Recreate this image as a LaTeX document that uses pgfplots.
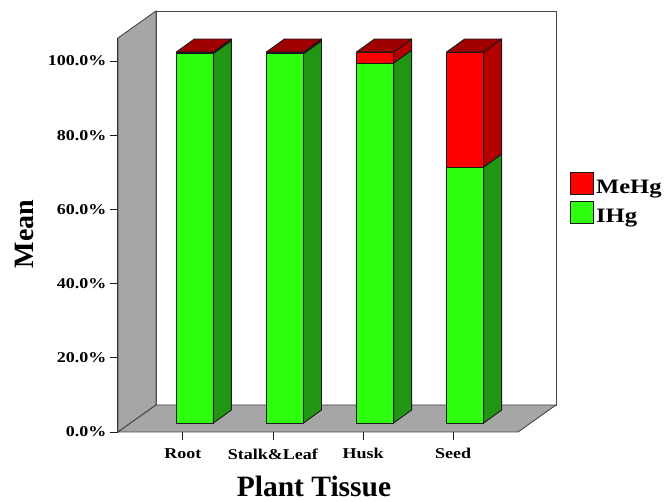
\documentclass[border=0pt]{standalone}
\usepackage{pgfplots}
\pgfplotsset{compat=1.18}
\usepackage{pgfplotstable}
\usepackage{fontspec}
\setmainfont{Liberation Serif}
\newfontfamily\widefont{Liberation Serif}[FakeStretch=1.2]

\definecolor{ihgfront}{RGB}{45,255,15}
\definecolor{ihgside}{RGB}{32,150,20}
\definecolor{mefront}{RGB}{255,0,0}
\definecolor{meside}{RGB}{180,0,0}
\definecolor{metop}{RGB}{160,0,0}
\definecolor{wallgray}{RGB}{166,166,166}
\definecolor{edge}{RGB}{25,25,25}
\definecolor{walledge}{RGB}{70,70,70}

% mean share of each mercury species per plant tissue (%)
\pgfplotstableread{
pos IHg  MeHg
0   99.6 0.4
1   99.5 0.5
2   97.0 3.0
3   69.0 31.0
}\tissuedata

% bar geometry (axis units): half width and depth of the prisms
\def\hw{0.2055}
\def\bx{0.2}
\def\by{3.5}

\begin{document}
\begin{tikzpicture}
\path[use as bounding box] (-118pt,-70pt) rectangle (549pt,432pt);
\begin{axis}[
  at={(0pt,0pt)}, anchor=south west,
  scale only axis, width=400pt, height=394pt,
  xmin=-0.72, xmax=3.72, ymin=0, ymax=106.2,
  axis lines*=left,
  axis line style={draw=edge, line width=1pt},
  clip=false,
  xtick={0,1,2,3},
  xticklabels={Root,Stalk\&Leaf,Husk,Seed},
  ytick={0,20,...,100},
  yticklabel={\pgfmathprintnumber[fixed,fixed zerofill,precision=1]{\tick}\%},
  /pgf/number format/assume math mode=true,
  tick align=outside, major tick length=8pt,
  tick style={draw=edge, line width=0.8pt},
  ticklabel style={font=\widefont\bfseries\fontsize{15}{15}\selectfont, text=black},
  xticklabel style={yshift=-5pt},
  xlabel={Plant Tissue}, ylabel={Mean},
  every axis x label/.style={at={(axis description cs:0.49,-0.163)}, anchor=base,
    inner sep=0pt, font=\bfseries\fontsize{29.5}{29.5}\selectfont},
  every axis y label/.style={at={(axis description cs:-0.2125,0.5025)}, rotate=90, anchor=base,
    inner sep=0pt, font=\bfseries\fontsize{28}{28}\selectfont},
  legend style={at={(axis description cs:1.13,0.66)}, anchor=north west,
    draw=none, fill=none, inner sep=0pt, row sep=5pt,
    font=\widefont\bfseries\fontsize{20.5}{21}\selectfont,
    nodes={inner xsep=2pt, inner ysep=1pt}},
  legend cell align=left,
  legend image code/.code={\filldraw[#1] (0pt,-7pt) rectangle (23pt,15pt);},
  barface/.style={xshift=12pt, yshift=9pt, draw=edge, line width=0.9pt, line join=round, forget plot},
]
% back wall, left wall and floor of the box
\filldraw[fill=white, draw=walledge, line width=0.9pt]
  (axis cs:-0.298,7.28) rectangle (axis cs:4.142,113.48);
\filldraw[fill=wallgray, draw=walledge, line width=0.9pt]
  (axis cs:-0.72,0) -- (axis cs:-0.72,106.2) -- (axis cs:-0.298,113.48) -- (axis cs:-0.298,7.28) -- cycle;
\filldraw[fill=wallgray, draw=walledge, line width=0.9pt]
  (axis cs:-0.72,0) -- (axis cs:3.72,0) -- (axis cs:4.142,7.28) -- (axis cs:-0.298,7.28) -- cycle;

% front faces: MeHg stacked on IHg
\addplot[ybar, bar width=0.411, bar shift=0pt, barface, fill=mefront]
  table[x=pos, y expr=\thisrow{IHg}+\thisrow{MeHg}] {\tissuedata};
\addplot[ybar, bar width=0.411, bar shift=0pt, barface, fill=ihgfront]
  table[x=pos, y=IHg] {\tissuedata};

% side and top faces of each prism
\pgfplotsinvokeforeach{0,1,2,3}{
  \pgfplotstablegetelem{#1}{IHg}\of\tissuedata \let\vi=\pgfplotsretval
  \pgfplotstablegetelem{#1}{MeHg}\of\tissuedata \let\vm=\pgfplotsretval
  \pgfmathsetmacro\vt{\vi+\vm}
  \pgfmathsetmacro\xl{#1-\hw}
  \pgfmathsetmacro\xr{#1+\hw}
  \pgfmathsetmacro\xrb{\xr+\bx}
  \pgfmathsetmacro\xlb{\xl+\bx}
  \pgfmathsetmacro\yib{\vi+\by}
  \pgfmathsetmacro\ytb{\vt+\by}
  \edef\facecmds{%
    \noexpand\addplot[barface, fill=ihgside] coordinates {(\xr,0) (\xr,\vi) (\xrb,\yib) (\xrb,\by)} -- cycle;
    \noexpand\addplot[barface, fill=meside] coordinates {(\xr,\vi) (\xr,\vt) (\xrb,\ytb) (\xrb,\yib)} -- cycle;
    \noexpand\addplot[barface, fill=metop] coordinates {(\xl,\vt) (\xr,\vt) (\xrb,\ytb) (\xlb,\ytb)} -- cycle;
  }%
  \facecmds
}

\addlegendimage{fill=mefront, draw=edge, line width=0.9pt}
\addlegendentry{MeHg}
\addlegendimage{fill=ihgfront, draw=edge, line width=0.9pt}
\addlegendentry{IHg}
\end{axis}
\end{tikzpicture}
\end{document}
